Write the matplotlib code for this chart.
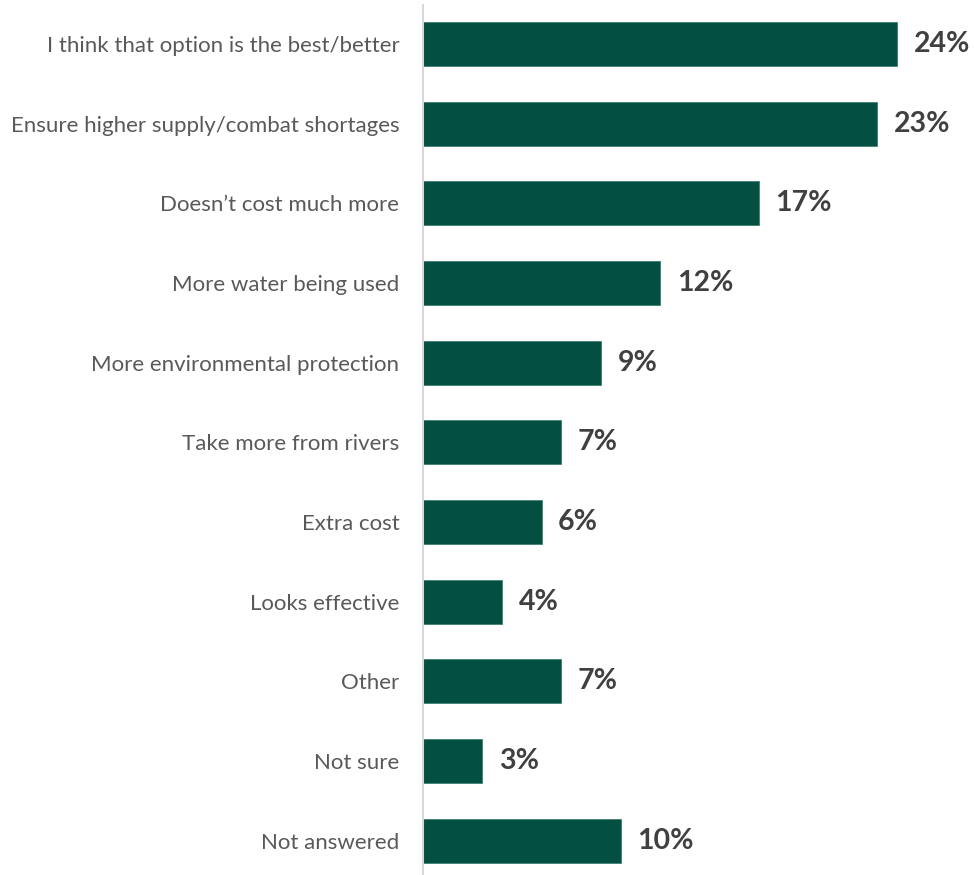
import matplotlib.pyplot as plt
import numpy as np

reasons = [
    "I think that option is the best/better",
    "Ensure higher supply/combat shortages",
    "Doesn\u2019t cost much more",
    "More water being used",
    "More environmental protection",
    "Take more from rivers",
    "Extra cost",
    "Looks effective",
    "Other",
    "Not sure",
    "Not answered",
]
share = [24, 23, 17, 12, 9, 7, 6, 4, 7, 3, 10]

bar_color = "#034F42"
label_grey = "#595959"
value_grey = "#404040"

plt.rcParams['font.family'] = ['Lato', 'DejaVu Sans']

fig = plt.figure(figsize=(9.74, 8.75), dpi=100)
ax = fig.add_axes([423 / 974, 0, 551 / 974, 870 / 875])

y = np.arange(len(reasons))
ax.barh(y, share, height=0.55, color=bar_color, edgecolor="#3F8073", linewidth=0.6)

for yi, v in zip(y, share):
    ax.annotate(f"{v}%", (v, yi), xytext=(12, 0), textcoords="offset points",
                va="center", ha="left", fontsize=20.5, fontweight="bold", color=value_grey)

ax.set_yticks(y)
ax.set_yticklabels(reasons, fontsize=16, color=label_grey)
ax.tick_params(axis="y", length=0, pad=17)
ax.set_xticks([])
ax.set_xlim(0, 551 / 19.75)
ax.set_ylim(len(reasons) - 1 + 0.43, -0.49)

for side in ["top", "right", "bottom"]:
    ax.spines[side].set_visible(False)
ax.spines["left"].set_color("#D9D9D9")
ax.spines["left"].set_linewidth(1.5)

fig.savefig("out.png", dpi=100)
